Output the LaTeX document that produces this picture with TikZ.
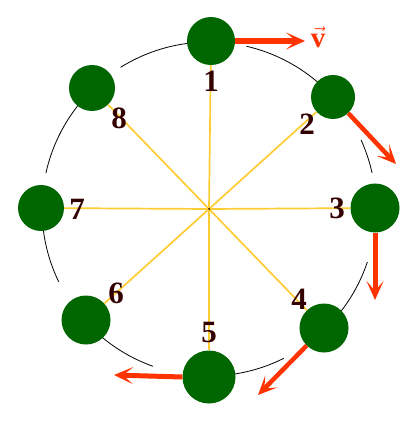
\documentclass[tikz,border=0pt]{standalone}
\usepackage{fontspec}
\setmainfont{Liberation Serif}
\usetikzlibrary{arrows.meta}
\definecolor{ballgreen}{RGB}{0,102,0}
\definecolor{vred}{RGB}{255,51,0}
\definecolor{spoke}{RGB}{255,204,51}
\definecolor{lab}{RGB}{51,0,0}
\tikzset{
  ball/.style={circle, fill=ballgreen, inner sep=0pt, minimum size=#1},
  spokeline/.style={draw=spoke, line width=1.7pt},
  orbit/.style={draw=black, line width=0.8pt},
  varrow/.style={draw=vred, line width=5pt,
    -{Stealth[length=19pt, width=17pt, inset=10pt]}},
  num/.style={text=lab, font=\fontsize{31}{31}\selectfont\bfseries, inner sep=0pt}
}
\begin{document}
\begin{tikzpicture}[x=1pt, y=-1pt]
\useasboundingbox (0,0) rectangle (415,427);
\fill[white] (0,0) rectangle (415,427);
\coordinate (c) at (209,209);
% orbit arcs
\foreach \a/\b in {95/122, 45/77, 12.5/24.4, -45/-18.5, -85/-63.4, 222/250.4, 180/205.8, 134/167.6}
  \draw[orbit] ([shift={(c)}]\a:167pt) arc[start angle=\a, end angle=\b, radius=167pt];
% balls
\node[ball=48pt] (b1) at (211,41) {};
\node[ball=44pt] (b2) at (333,97) {};
\node[ball=49pt] (b3) at (375,208) {};
\node[ball=49pt] (b4) at (324,328) {};
\node[ball=53pt] (b5) at (209,377) {};
\node[ball=49pt] (b6) at (86,320) {};
\node[ball=46pt] (b7) at (41,208) {};
\node[ball=46pt] (b8) at (92,88) {};
% spokes
\foreach \i in {1,...,8}
  \draw[spokeline] (c) -- (b\i);
\fill[black] (c) circle (1pt);
% velocity arrows
\coordinate (t1) at (305,41);
\coordinate (t2) at (396,164);
\coordinate (t3) at (375,300);
\coordinate (t4) at (258,395);
\coordinate (t5) at (114,375);
\draw[varrow, line width=6pt] (b1.east) -- (t1);
\draw[varrow, line width=4.5pt] (b2) -- (t2);
\draw[varrow] (b3.south) -- (t3);
\draw[varrow, line width=4.5pt] (b4) -- (t4);
\draw[varrow] (b5.west) -- (t5);
% labels
\node[num] (l1) at (211,81) {1};
\node[num] (l2) at (307,124) {2};
\node[num] (l3) at (337,208) {3};
\node[num] (l4) at (299,299) {4};
\node[num] (l5) at (209,332) {5};
\node[num] (l6) at (116,293) {6};
\node[num] (l7) at (77,209) {7};
\node[num] (l8) at (119,118) {8};
\node[text=vred, inner sep=0pt, font=\fontsize{29}{29}\selectfont] (v) at (318,37) {$\vec{\mathbf{v}}$};
\end{tikzpicture}
\end{document}
